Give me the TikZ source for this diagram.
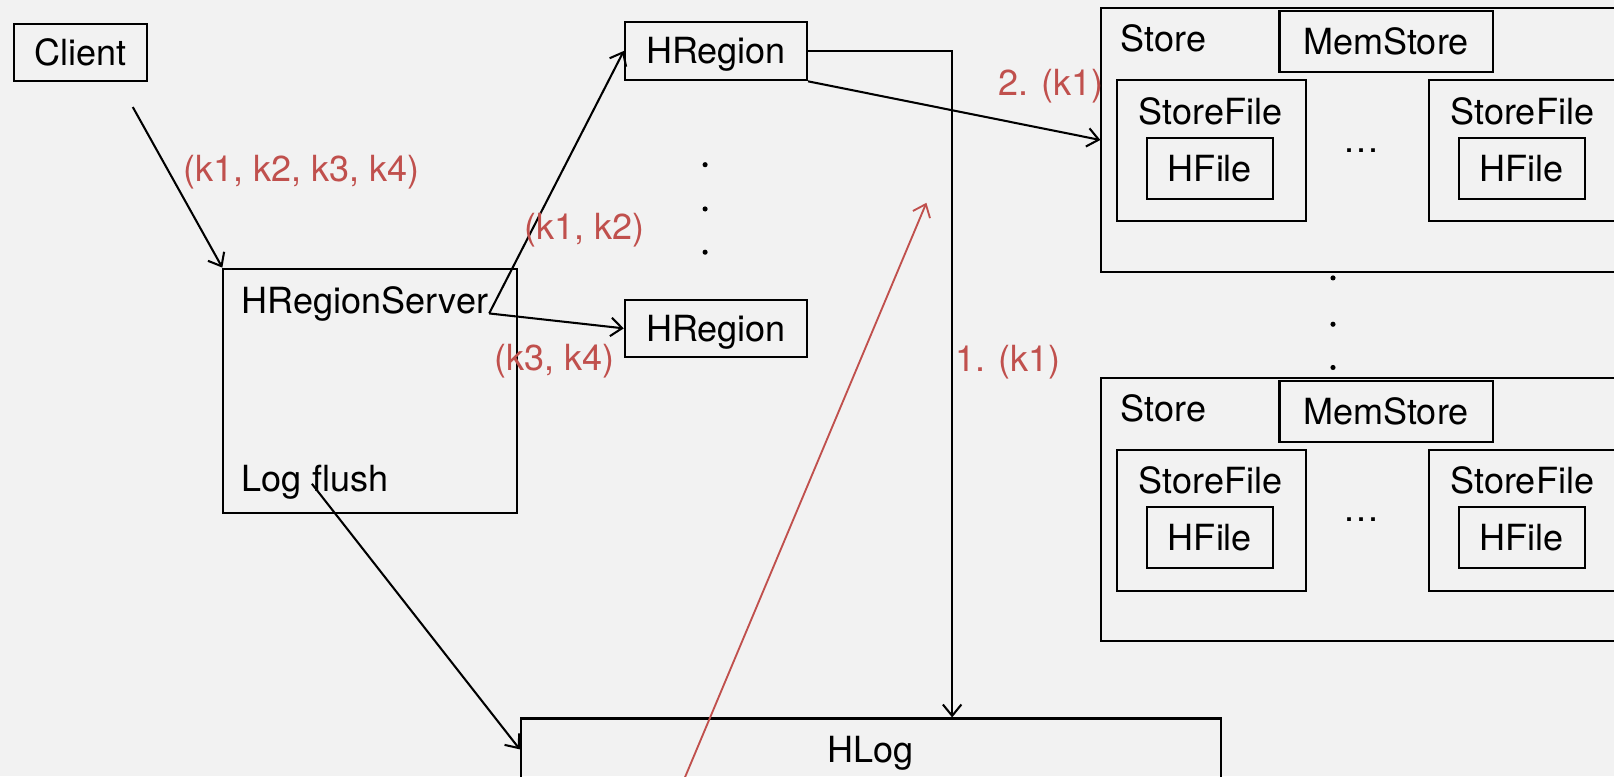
\documentclass[tikz,border=0pt]{standalone}
\usepackage{fontspec}
\setmainfont{TeX Gyre Heros}
\usetikzlibrary{arrows.meta}
\definecolor{bgcol}{RGB}{242,242,242}
\definecolor{keyred}{RGB}{192,80,77}
\tikzset{
  txt/.style={font=\fontsize{35}{42}\selectfont,inner sep=0pt,text height=25pt,text depth=0pt},
  box/.style={txt,draw,line width=2pt,anchor=north west},
  keys/.style={txt,text=keyred},
}
\begin{document}
\begin{tikzpicture}[x=1pt,y=-1pt,line width=2pt,>={Straight Barb[length=11pt,width=18pt]}]
\path[use as bounding box,fill=bgcol] (0,0) rectangle (1568,754);
\clip (0,0) rectangle (1568,754);
\node[box,minimum width=129pt,minimum height=56pt] (client) at (13,22) {Client};
\node[box,minimum width=285pt,minimum height=237pt] (srv) at (216,260) {};
\node[txt,anchor=west] (srvtxt) at (234,292) {HRegionServer};
\node[txt,anchor=west] (flushtxt) at (234,465) {Log flush};
\node[box,minimum width=177pt,minimum height=57pt] (hr1) at (606,20) {HRegion};
\node[box,minimum width=177pt,minimum height=56pt] (hr2) at (606,290) {HRegion};
\node[box,minimum width=680pt,minimum height=60pt] (hlog) at (505,697) {HLog};
\foreach \y in {160,203,245}\fill (685,\y) circle (2.5);
\foreach \y in {270,315,357}\fill (1295,\y) circle (2.5);
\foreach \s/\dy in {1/0,2/359}{
  \node[box,minimum width=600pt,minimum height=256pt] (store\s) at (1069,7+\dy) {};
  \node[txt,anchor=west] (storetxt\s) at (1088,38+\dy) {Store};
  \node[box,minimum width=207pt,minimum height=59pt] (mem\s) at (1242,10+\dy) {MemStore};
  \node[txt,anchor=base] (more\s) at (1323,148+\dy) {…};
  \foreach \f/\fx in {a/1084,b/1387}{
    \node[box,minimum width=184pt,minimum height=137pt] (sf\s\f) at (\fx,77+\dy) {};
    \node[txt] (sftxt\s\f) at (\fx+92,108+\dy) {StoreFile};
    \node[box,minimum width=123pt,minimum height=59pt] (hf\s\f) at (\fx+29,133+\dy) {HFile};
  }
}
\coordinate (cstart) at (129,104);
\coordinate (flushpt) at (303,470);
\coordinate (walstart) at (655,780);
\coordinate (walend) at (900,197);
\draw[->] (cstart) -- (srv.north west);
\draw[->] (srvtxt.base east) -- (hr1.west);
\draw[->] (srvtxt.base east) -- (hr2.west);
\draw[->] (hr1.east) -| ([xshift=79pt]hlog.north);
\draw[->] (hr1.south east) -- (store1.west);
\draw[->] (flushpt) -- (hlog.west);
\draw[->,keyred,line width=1.8pt] (walstart) -- (walend);
\node[keys] (k1234) at (293,164) {(k1, k2, k3, k4)};
\node[keys] (k12) at (568,220) {(k1, k2)};
\node[keys] (k34) at (539,347) {(k3, k4)};
\node[keys] (step1) at (979,348) {1. (k1)};
\node[keys] (step2) at (1021,80) {2. (k1)};
\end{tikzpicture}
\end{document}
